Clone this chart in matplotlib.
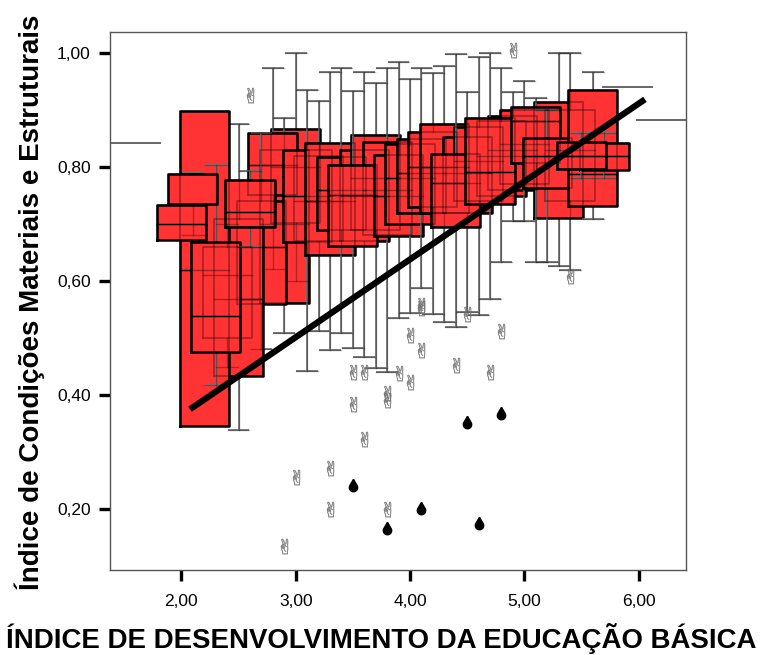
import numpy as np
import matplotlib
matplotlib.use("Agg")
import matplotlib.pyplot as plt
from matplotlib.path import Path

plt.rcParams['font.family'] = ['Liberation Sans', 'DejaVu Sans']

# IDEB groups and the box statistics of the index in each group
ideb = [1.6, 2.0, 2.1, 2.2, 2.3, 2.4, 2.5, 2.6, 2.7, 2.8, 2.9, 3.0, 3.1, 3.2, 3.3, 3.4, 3.5,
        3.6, 3.7, 3.8, 3.9, 4.0, 4.1, 4.2, 4.3, 4.4, 4.5, 4.6, 4.7, 4.8, 4.9, 5.0, 5.1, 5.2,
        5.3, 5.4, 5.5, 5.6, 5.7, 5.9, 6.2]
w_low = [0.842, 0.672, 0.680, 0.345, 0.417, 0.450, 0.339, 0.660, 0.480, 0.621, 0.509, 0.600,
         0.442, 0.512, 0.479, 0.509, 0.482, 0.466, 0.447, 0.440, 0.535, 0.544, 0.588, 0.542,
         0.528, 0.519, 0.546, 0.540, 0.568, 0.633, 0.705, 0.705, 0.633, 0.633, 0.626, 0.620,
         0.780, 0.709, 0.780, 0.941, 0.882]
q1 = [0.842, 0.672, 0.736, 0.345, 0.475, 0.500, 0.433, 0.695, 0.560, 0.751, 0.561, 0.702,
      0.668, 0.670, 0.646, 0.689, 0.661, 0.670, 0.690, 0.680, 0.679, 0.700, 0.720, 0.730,
      0.720, 0.695, 0.720, 0.740, 0.735, 0.750, 0.760, 0.770, 0.807, 0.763, 0.711, 0.740,
      0.796, 0.732, 0.795, 0.941, 0.882]
median = [0.842, 0.700, 0.736, 0.620, 0.538, 0.610, 0.568, 0.721, 0.660, 0.804, 0.700, 0.800,
          0.750, 0.740, 0.740, 0.760, 0.751, 0.750, 0.780, 0.760, 0.749, 0.780, 0.790, 0.800,
          0.800, 0.772, 0.790, 0.810, 0.791, 0.820, 0.830, 0.840, 0.881, 0.819, 0.820, 0.830,
          0.819, 0.788, 0.819, 0.941, 0.882]
q3 = [0.842, 0.733, 0.788, 0.898, 0.668, 0.660, 0.709, 0.777, 0.740, 0.860, 0.830, 0.867,
      0.830, 0.820, 0.842, 0.818, 0.804, 0.830, 0.856, 0.844, 0.821, 0.840, 0.850, 0.861,
      0.876, 0.823, 0.853, 0.870, 0.886, 0.880, 0.890, 0.900, 0.905, 0.851, 0.914, 0.900,
      0.844, 0.935, 0.842, 0.941, 0.882]
w_high = [0.842, 0.733, 0.790, 0.898, 0.804, 0.700, 0.875, 0.793, 0.860, 0.974, 0.886, 1.000,
          0.935, 0.916, 0.967, 0.974, 0.933, 0.967, 0.947, 0.974, 0.984, 0.954, 0.974, 0.965,
          0.977, 0.998, 0.932, 0.993, 1.000, 0.974, 0.932, 0.951, 0.921, 0.900, 1.000, 1.000,
          0.860, 0.967, 0.860, 0.941, 0.882]
# stacking of the boxes, bottom first
layer = [3.0, 2.9, 2.8, 2.7, 2.4, 2.5, 2.2, 2.3, 2.6, 2.1, 2.0, 1.6,
         3.2, 3.1, 3.3, 3.4, 3.6, 3.7, 3.8, 3.5, 3.9, 4.0, 4.1, 4.2, 4.3, 4.5, 4.6, 4.4,
         4.8, 4.9, 5.0, 4.7, 5.4, 5.3, 5.1, 5.2, 5.6, 5.7, 5.5, 5.9, 6.2]

# outlying (o) and extreme (*) cases
out_x = [2.6, 4.9, 3.0, 3.3, 3.3, 2.9, 3.5, 3.6, 3.8, 3.8, 3.8, 4.0, 4.1, 4.1, 4.5, 4.0,
         4.1, 4.8, 4.4, 4.7, 3.5, 3.6, 3.9, 5.4]
out_y = [0.926, 1.005, 0.256, 0.272, 0.200, 0.135, 0.384, 0.323, 0.404, 0.391, 0.200, 0.423,
         0.553, 0.558, 0.542, 0.505, 0.479, 0.512, 0.453, 0.440, 0.440, 0.440, 0.439, 0.609]
ext_x = [3.5, 3.8, 4.1, 4.5, 4.8, 4.6]
ext_y = [0.242, 0.167, 0.202, 0.353, 0.368, 0.175]

# linear fit line
fit_x = [2.075, 6.056]
fit_a, fit_b = 0.0916, 0.1366

half = 0.215
cap = 0.095
red = '#ff3333'

fig = plt.figure(figsize=(7.64, 6.55), dpi=100)
ax = fig.add_axes([110 / 764, 1 - 570 / 655, 576 / 764, 538 / 655])
ax.set_xlim(1.375, 6.415)
ax.set_ylim(0.093, 1.037)

stats = {x: (a, b, c, d, e) for x, a, b, c, d, e in zip(ideb, w_low, q1, median, q3, w_high)}


def whisker_segs(x, lo, b1, b3, hi):
    segs = []
    if hi > b3:
        segs.append(([x, x], [b3, hi]))
        segs.append(([x - cap, x + cap], [hi, hi]))
    if lo < b1:
        segs.append(([x, x], [lo, b1]))
        segs.append(([x - cap, x + cap], [lo, lo]))
    return segs


for k, x in enumerate(layer):
    lo, b1, md, b3, hi = stats[x]
    z = 2 + k * 0.01
    for sx, sy in whisker_segs(x, lo, b1, b3, hi):
        ax.plot(sx, sy, color='#777777', lw=1.3, zorder=z, solid_capstyle='butt')
    if b3 > b1:
        ax.fill_between([x - half, x + half], b1, b3, color=red, lw=0, zorder=z + 0.003)
        ax.plot([x - half, x + half, x + half, x - half, x - half], [b1, b1, b3, b3, b1],
                color='black', lw=1.8, zorder=z + 0.004)
        ax.plot([x - half, x + half], [md, md], color='black', lw=1.0, zorder=z + 0.005)
    else:
        ax.plot([x - half, x + half], [md, md], color='#666666', lw=1.4, zorder=z + 0.005)

# lines of the covered boxes shine faintly through the fills
for x in layer:
    lo, b1, md, b3, hi = stats[x]
    for sx, sy in whisker_segs(x, lo, b1, b3, hi):
        ax.plot(sx, sy, color='black', lw=1.0, alpha=0.3, zorder=3)
    if b3 > b1:
        ax.plot([x - half, x + half, x + half, x - half, x - half], [b1, b1, b3, b3, b1],
                color='black', lw=1.2, alpha=0.35, zorder=3)
        ax.plot([x - half, x + half], [md, md], color='black', lw=1.0, alpha=0.35, zorder=3)

ax.plot(out_x, out_y, ls='none', marker='$\u270c$', markersize=11, color='#707070',
        mew=0.2, zorder=4)

t = np.radians(np.linspace(150, 390, 40))
drop = Path(np.column_stack([np.r_[0, np.cos(t), 0], np.r_[1.5, np.sin(t) - 0.5, 1.5]]))
ax.plot(ext_x, ext_y, ls='none', marker=drop, markersize=9, color='black', zorder=4)

fx = np.array(fit_x)
ax.plot(fx, fit_a + fit_b * fx, color='black', lw=4.5, zorder=5, solid_capstyle='butt')

ax.set_xticks([2, 3, 4, 5, 6], ['2,00', '3,00', '4,00', '5,00', '6,00'])
ax.set_yticks([0.2, 0.4, 0.6, 0.8, 1.0], ['0,20', '0,40', '0,60', '0,80', '1,00'])
ax.tick_params(length=8, width=2.4, labelsize=12.5, color='black')
ax.tick_params(axis='x', pad=9)
ax.tick_params(axis='y', pad=6)
for s in ax.spines.values():
    s.set_color('#555555')
    s.set_linewidth(1.0)

fig.text(0.039, 0.539, 'Índice de Condições Materiais e Estruturais', rotation=90,
         fontsize=20, fontweight='bold', ha='center', va='center')
fig.text(0.499, 0.025, 'ÍNDICE DE DESENVOLVIMENTO DA EDUCAÇÃO BÁSICA',
         fontsize=19.9, fontweight='bold', ha='center', va='center')

fig.savefig('out.png', dpi=100)
